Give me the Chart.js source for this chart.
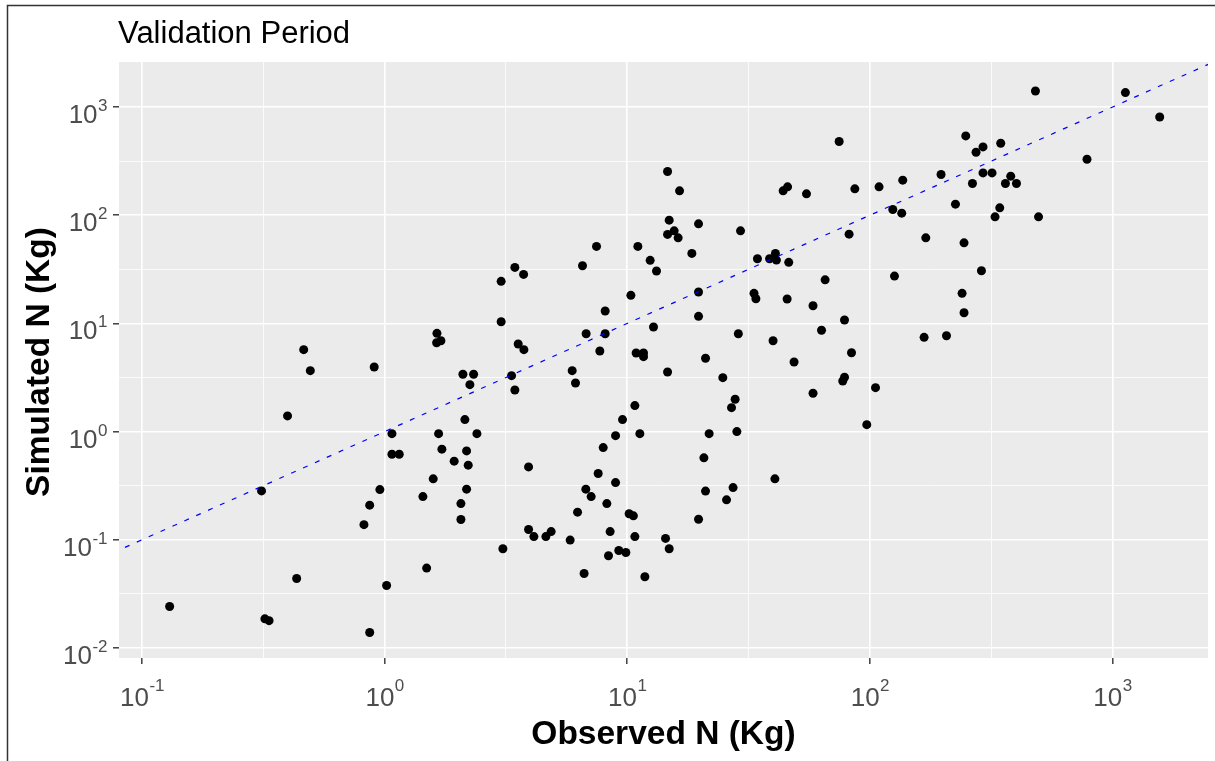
<!DOCTYPE html>
<html>
<head>
<meta charset="utf-8">
<script src="https://cdn.jsdelivr.net/npm/chart.js@4.4.1/dist/chart.umd.min.js"></script>
<style>
  html, body { margin: 0; padding: 0; background: #ffffff; }
  #chart { display: block; }
</style>
</head>
<body>
<canvas id="chart" width="1215" height="761"></canvas>
<script>
// observed vs simulated N (Kg), validation period
const observed = [
    0.130, 0.311, 0.321, 0.334, 0.398, 0.434, 0.464, 0.494, 0.822, 0.868,
    0.868, 0.906, 0.956, 1.019, 1.072, 1.072, 1.149, 1.438, 1.490, 1.586,
    1.643, 1.638, 1.706, 1.669, 1.722, 1.935, 2.063, 2.063, 2.102, 2.327,
    2.246, 2.142, 2.177, 2.211, 2.177, 2.401, 3.022, 3.022, 3.072, 3.336,
    3.442, 3.442, 3.739, 3.552, 3.750, 3.920, 3.920, 4.123, 4.62, 4.857,
    5.817, 5.93, 6.12, 6.24, 6.54, 6.64, 6.75, 7.10, 6.77, 7.47,
    7.59, 7.71, 7.96, 8.11, 8.11, 8.24, 8.37, 8.50, 8.95, 8.95,
    9.23, 9.87, 9.56, 10.18, 10.6, 10.35, 10.75, 10.75, 10.88, 11.67,
    11.67, 11.06, 11.27, 11.82, 12.43, 12.83, 13.2, 14.66, 16.43, 14.89,
    19.67, 15.61, 14.66, 16.21, 29.3, 18.46, 34.4, 38.6, 40.8, 41.2,
    19.67, 33.3, 33.9, 19.67, 28.7, 39.9, 14.66, 21.02, 24.77, 27.84,
    48.7, 58.3, 26.9, 21.75, 28.3, 20.7, 40.6, 21.02, 27.3, 25.66,
    19.67, 14.38, 14.89, 74.7, 248.4, 273.9, 292.6, 346.2, 196.5, 292.6,
    318.8, 264.7, 136.6, 109.1, 86.7, 43.9, 45.8, 54.8, 225.3, 343,
    328, 124.3, 135.3, 82.1, 170, 244.4, 46.3, 288.3, 126.3, 65.4,
    45.6, 58.3, 239.9, 244.4, 78.6, 63.2, 167.3, 206.9, 84.0, 77.3,
    78.6, 105.5, 97.1, 481.2, 1130, 1565, 785, 380.6, 362, 401.9,
    495.6
];
const simulated = [
    0.0242, 0.283, 0.0186, 0.0179, 1.396, 0.0439, 5.72, 3.66, 0.138, 0.209,
    0.0139, 3.96, 0.291, 0.0378, 0.958, 0.618, 0.618, 0.251, 0.0548, 0.366,
    8.10, 6.63, 6.92, 0.958, 0.688, 0.533, 0.216, 0.154, 3.39, 3.39,
    2.716, 1.291, 0.663, 0.490, 0.294, 0.958, 24.5, 10.37, 0.0826, 3.289,
    2.427, 32.96, 28.4, 6.45, 5.72, 0.472, 0.1245, 0.107, 0.107, 0.119,
    0.0994, 3.66, 2.817, 0.180, 34.1, 0.0488, 0.294, 0.251, 8.03, 51.5,
    0.41, 5.56, 0.712, 13.02, 8.03, 0.216, 0.0712, 0.119, 0.918, 0.338,
    0.0796, 0.0763, 1.291, 0.174, 0.1665, 18.17, 1.739, 0.107, 5.33, 5.33,
    4.93, 51.5, 0.958, 0.0455, 38.3, 9.26, 30.5, 253.8, 168, 90.1,
    83.3, 71.8, 66.5, 61.8, 71.8, 44.4, 39.6, 39.6, 44.4, 38.5,
    19.5, 18.97, 16.9, 11.63, 8.03, 6.92, 3.56, 4.76, 3.152, 1.992,
    4.40, 2.262, 1.665, 0.958, 1.0, 0.572, 0.366, 0.282, 0.304, 0.234,
    0.155, 0.103, 0.0826, 480, 541, 382, 428, 463, 238, 246.3,
    246.3, 196.6, 211, 182.9, 175.3, 168, 182.9, 157.6, 126.6, 117,
    96.6, 113.1, 104.6, 66.9, 61.8, 55.6, 36.7, 30.7, 27.4, 25.3,
    16.8, 14.57, 18.97, 12.56, 10.75, 8.64, 7.44, 7.70, 5.36, 2.94,
    3.18, 2.548, 1.16, 1408, 1361, 810, 329.6, 229.6, 196.6, 196.6,
    96.6
];

// 1:1 reference line (y = x), clipped to the panel
const oneToOne = [0.01, 10000];

// axis breaks
const xMajor = [0.1, 1, 10, 100, 1000];
const xTickExp = ['-1', '0', '1', '2', '3'];
const xMinor = [0.3162, 3.162, 31.62, 316.2];
const yMajor = [0.01, 0.1, 1, 10, 100, 1000];
const yTickExp = ['-2', '-1', '0', '1', '2', '3'];
const yMinor = [0.03162, 0.3162, 3.162, 31.62, 316.2];

const xLimits = [0.0804, 2475];
const yLimits = [0.00808, 2609];

const FONT = '"Liberation Sans", Arial, Helvetica, sans-serif';

function isMajor(v) {
    const l = Math.log10(v);
    return Math.abs(l - Math.round(l)) < 0.01;
}

const gridOpts = {
    color: '#ffffff',
    lineWidth: (c) => (c.tick && isMajor(c.tick.value)) ? 1.6 : 0.8,
    drawTicks: true,
    tickLength: 6,
    tickWidth: 1.4,
    tickColor: (c) => (c.tick && isMajor(c.tick.value)) ? '#333333' : 'rgba(0,0,0,0)',
};

// ggplot look: grey panel, 10^n labels, titles, frame
const ggPlugin = {
    id: 'ggLook',
    beforeDraw(chart) {
        const { ctx, chartArea: a } = chart;
        ctx.save();
        ctx.fillStyle = '#ffffff';
        ctx.fillRect(0, 0, chart.width, chart.height);
        ctx.fillStyle = '#EBEBEB';
        ctx.fillRect(a.left, a.top, a.right - a.left, a.bottom - a.top);
        ctx.restore();
    },
    afterDraw(chart) {
        const { ctx, chartArea: a } = chart;
        const xs = chart.scales.x, ys = chart.scales.y;
        ctx.save();

        const baseFont = '26px ' + FONT;
        const supFont = '17px ' + FONT;
        ctx.fillStyle = '#4D4D4D';
        ctx.textBaseline = 'alphabetic';
        ctx.textAlign = 'left';

        // x tick labels
        xMajor.forEach((v, i) => {
            ctx.font = baseFont;
            const wb = ctx.measureText('10').width;
            ctx.font = supFont;
            const ws = ctx.measureText(xTickExp[i]).width;
            const px = xs.getPixelForValue(v);
            const x0 = px - (wb + ws) / 2;
            ctx.font = baseFont;
            ctx.fillText('10', x0, 706);
            ctx.font = supFont;
            ctx.fillText(xTickExp[i], x0 + wb + 0.5, 691);
        });

        // y tick labels
        yMajor.forEach((v, i) => {
            ctx.font = baseFont;
            const wb = ctx.measureText('10').width;
            ctx.font = supFont;
            const ws = ctx.measureText(yTickExp[i]).width;
            const py = ys.getPixelForValue(v);
            const x0 = 107 - (wb + ws);
            ctx.font = baseFont;
            ctx.fillText('10', x0, py + 16);
            ctx.font = supFont;
            ctx.fillText(yTickExp[i], x0 + wb + 0.5, py + 4);
        });

        // plot title
        ctx.fillStyle = '#000000';
        ctx.font = '31px ' + FONT;
        ctx.fillText('Validation Period', 118, 43);

        // axis titles
        ctx.font = 'bold 33.5px ' + FONT;
        ctx.textAlign = 'center';
        ctx.fillText('Observed N (Kg)', (a.left + a.right) / 2, 744);
        ctx.save();
        ctx.translate(49, (a.top + a.bottom) / 2 + 2);
        ctx.rotate(-Math.PI / 2);
        ctx.fillText('Simulated N (Kg)', 0, 0);
        ctx.restore();

        // outer frame (left and top edges only)
        ctx.strokeStyle = '#333333';
        ctx.lineWidth = 1.5;
        ctx.beginPath();
        ctx.moveTo(7.5, 761);
        ctx.lineTo(7.5, 5.5);
        ctx.lineTo(1215, 5.5);
        ctx.stroke();

        ctx.restore();
    }
};

const points = observed.map((o, i) => ({ x: o, y: simulated[i] }));
const refLine = oneToOne.map((v) => ({ x: v, y: v }));

const ctx = document.getElementById('chart').getContext('2d');
new Chart(ctx, {
    type: 'scatter',
    data: {
        datasets: [
            {
                type: 'line',
                label: '1:1',
                data: refLine,
                borderColor: '#0000FF',
                borderWidth: 1.2,
                borderDash: [5, 8],
                pointRadius: 0,
                fill: false,
                tension: 0,
            },
            {
                label: 'Validation',
                data: points,
                backgroundColor: '#000000',
                borderColor: '#000000',
                borderWidth: 0,
                pointRadius: 4.5,
                pointHoverRadius: 4.5,
            }
        ]
    },
    options: {
        responsive: false,
        animation: false,
        devicePixelRatio: 1,
        events: [],
        layout: { padding: { top: 62, right: 7, left: 0, bottom: 0 } },
        plugins: {
            legend: { display: false },
            tooltip: { enabled: false },
            title: { display: false },
        },
        scales: {
            x: {
                type: 'logarithmic',
                bounds: 'data',
                min: xLimits[0],
                max: xLimits[1],
                afterBuildTicks: (scale) => {
                    scale.ticks = xMajor.concat(xMinor).map((v) => ({ value: v }));
                },
                afterFit: (scale) => { scale.height = 103; },
                grid: gridOpts,
                border: { display: false },
                ticks: { display: false },
                title: { display: false },
            },
            y: {
                type: 'logarithmic',
                bounds: 'data',
                min: yLimits[0],
                max: yLimits[1],
                afterBuildTicks: (scale) => {
                    scale.ticks = yMajor.concat(yMinor).map((v) => ({ value: v }));
                },
                afterFit: (scale) => { scale.width = 119; },
                grid: gridOpts,
                border: { display: false },
                ticks: { display: false },
                title: { display: false },
            },
        },
    },
    plugins: [ggPlugin],
});
</script>
</body>
</html>
